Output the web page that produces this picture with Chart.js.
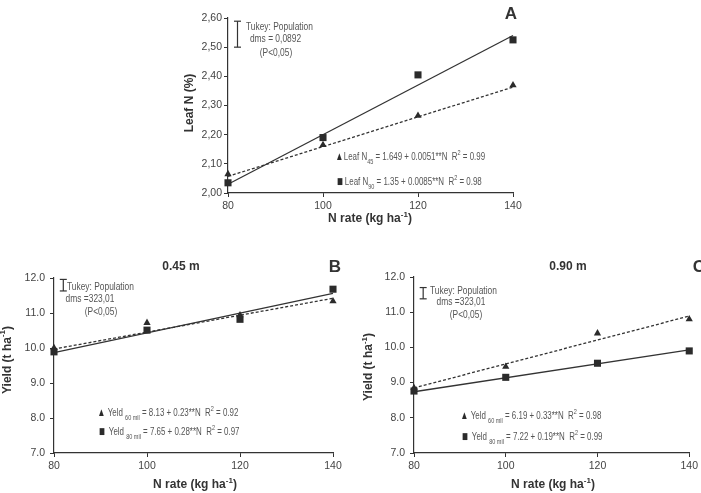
<!DOCTYPE html>
<html>
<head>
<meta charset="utf-8">
<script src="https://cdn.jsdelivr.net/npm/chart.js@4.4.1/dist/chart.umd.min.js"></script>
<style>
body { margin: 0; background: #fff; }
#fig { position: relative; width: 701px; height: 493px; }
canvas { position: absolute; }
</style>
</head>
<body>
<div id="fig">
  <canvas id="chartA" width="400" height="232" style="left:150px;top:0"></canvas>
  <canvas id="chartB" width="350" height="261" style="left:0;top:232px"></canvas>
  <canvas id="chartC" width="351" height="261" style="left:350px;top:232px"></canvas>
</div>
<script>
// values
const nRates = [80, 100, 120, 140];
const fitRange = [80, 140];
const tukeyX = 82;

// A - leaf N (%)
const leafN45 = [2.065, 2.165, 2.265, 2.37];
const leafN90 = [2.035, 2.19, 2.405, 2.525];
const leafFit45 = [2.057, 2.363];
const leafFit90 = [2.03, 2.54];
const leafTukey = [2.5, 2.589];

// B - yield 0.45 m (t/ha)
const yieldB60 = [10.0, 10.72, 10.94, 11.34];
const yieldB80 = [9.89, 10.51, 10.82, 11.68];
const fitB60 = [9.97, 11.42];
const fitB80 = [9.87, 11.56];
const tukeyB = [11.63, 11.96];

// C - yield 0.90 m (t/ha)
const yieldC60 = [8.85, 9.45, 10.4, 10.8];
const yieldC80 = [8.76, 9.15, 9.55, 9.9];
const fitC60 = [8.85, 10.89];
const fitC80 = [8.74, 9.93];
const tukeyC = [11.38, 11.7];

const NARROW = "'Liberation Sans Narrow', 'Liberation Sans', Arial, sans-serif";
const SANS = "'Liberation Sans', Arial, sans-serif";

function pts(xs, ys) {
    return xs.map((x, i) => ({ x: x, y: ys[i] }));
}

// draws text with sub/superscript pieces; origin is the anchor point
function drawRich(ctx, parts, align, size, bold, color, family) {
    const segs = parts.map(p => typeof p === 'string' ? { t: p, k: '' } : { t: p[0], k: p[1] });
    const fontFor = k => {
        if (k === 'mark') return Math.round(size * 0.75) + "px 'DejaVu Sans'";
        return (bold ? 'bold ' : '') + (k ? Math.round(size * 0.68) : size) + 'px ' + family;
    };
    let w = 0;
    segs.forEach(s => { ctx.font = fontFor(s.k); s.w = ctx.measureText(s.t).width; w += s.w; });
    let x = align === 'center' ? -w / 2 : (align === 'right' ? -w : 0);
    ctx.textBaseline = 'middle';
    ctx.textAlign = 'left';
    segs.forEach(s => {
        ctx.font = fontFor(s.k);
        ctx.fillStyle = s.k === 'mark' ? '#2b2b2b' : color;
        const dy = s.k === 'sub' ? size * 0.38 : (s.k === 'sup' ? -size * 0.38 : 0);
        ctx.fillText(s.t, x, dy);
        x += s.w;
    });
}

const notesPlugin = {
    id: 'notes',
    afterDraw(chart, args, opts) {
        const ctx = chart.ctx, ca = chart.chartArea;
        (opts.items || []).forEach(n => {
            ctx.save();
            ctx.translate(ca.left + n.dx, ca.top + n.dy);
            if (n.rotate) ctx.rotate(-Math.PI / 2);
            ctx.scale(n.sx || (n.bold ? 1 : 0.73), 1);
            drawRich(ctx, n.parts, n.align || 'left', n.size || 11.5, n.bold, n.color || '#555', n.family || NARROW);
            ctx.restore();
        });
    }
};

function makeChart(id, cfg) {
    const tickFont = { family: SANS, size: 10.5 };
    return new Chart(document.getElementById(id), {
        type: 'scatter',
        data: {
            datasets: [
                { data: pts(nRates, cfg.sq), pointStyle: 'rect', pointRadius: 5, backgroundColor: '#2b2b2b', borderColor: '#2b2b2b', borderWidth: 0, clip: false },
                { data: pts(nRates, cfg.tri), pointStyle: 'triangle', pointRadius: 4.2, backgroundColor: '#2b2b2b', borderColor: '#2b2b2b', borderWidth: 0, clip: false },
                { data: pts(fitRange, cfg.fitSolid), showLine: true, pointRadius: 0, borderColor: '#333', borderWidth: 1.3, clip: false },
                { data: pts(fitRange, cfg.fitDash), showLine: true, pointRadius: 0, borderColor: '#333', borderWidth: 1.3, borderDash: [3, 2], clip: false },
                { data: pts([tukeyX, tukeyX], cfg.tukey), showLine: true, pointStyle: 'line', pointRadius: 3.5,
                  pointBorderWidth: 1.2, pointBorderColor: '#333', borderColor: '#333', borderWidth: 1.2, clip: false }
            ]
        },
        options: {
            responsive: false,
            animation: false,
            layout: { padding: cfg.padding },
            plugins: {
                legend: { display: false },
                tooltip: { enabled: false },
                notes: { items: cfg.notes }
            },
            scales: {
                x: {
                    type: 'linear', min: 80, max: 140,
                    ticks: { stepSize: 20, color: '#444', font: tickFont, padding: 3 },
                    grid: { drawOnChartArea: false, tickLength: 4, color: '#333' },
                    border: { color: '#333', width: 1.2 },
                    afterFit: s => { s.height = cfg.xHeight; }
                },
                y: {
                    min: cfg.yMin, max: cfg.yMax,
                    ticks: { stepSize: cfg.yStep, color: '#444', font: tickFont, padding: cfg.yPad, callback: cfg.fmt },
                    grid: { drawOnChartArea: false, tickLength: 4, color: '#333' },
                    border: { color: '#333', width: 1.2 },
                    afterFit: s => { s.width = cfg.yWidth; }
                }
            }
        },
        plugins: [notesPlugin]
    });
}

const xTitle = ['N rate (kg ha', ['-1', 'sup'], ')'];
const yieldTitle = ['Yield (t ha', ['-1', 'sup'], ')'];

makeChart('chartA', {
    tri: leafN45, sq: leafN90, fitDash: leafFit45, fitSolid: leafFit90, tukey: leafTukey,
    yMin: 2.0, yMax: 2.6, yStep: 0.1, yPad: 2,
    fmt: v => v.toFixed(2).replace('.', ','),
    padding: { left: 0, right: 37, top: 18, bottom: 0 }, yWidth: 78, xHeight: 39,
    notes: [
        { dx: 18, dy: 9, parts: ['Tukey: Population'] },
        { dx: 47.5, dy: 21, align: 'center', parts: ['dms = 0,0892'] },
        { dx: 48, dy: 35, align: 'center', parts: ['(P<0,05)'] },
        { dx: 109, dy: 139, sx: 0.69, parts: [['\u25B2 ', 'mark'], 'Leaf N', ['45', 'sub'], ' = 1.649 + 0.0051**N  R', ['2', 'sup'], ' = 0.99'] },
        { dx: 109, dy: 164, sx: 0.69, parts: [['\u25A0 ', 'mark'], 'Leaf N', ['90', 'sub'], ' = 1.35 + 0.0085**N  R', ['2', 'sup'], ' = 0.98'] },
        { dx: 283, dy: -4, align: 'center', size: 17, bold: true, color: '#333', family: SANS, parts: ['A'] },
        { dx: -38, dy: 85, rotate: true, align: 'center', size: 12, bold: true, color: '#333', family: SANS, parts: ['Leaf N (%)'] },
        { dx: 142, dy: 201, align: 'center', size: 12, bold: true, color: '#333', family: SANS, parts: xTitle }
    ]
});

makeChart('chartB', {
    tri: yieldB60, sq: yieldB80, fitDash: fitB60, fitSolid: fitB80, tukey: tukeyB,
    yMin: 7, yMax: 12, yStep: 1, yPad: 5,
    fmt: v => v.toFixed(1),
    padding: { left: 0, right: 17, top: 46, bottom: 0 }, yWidth: 54, xHeight: 40,
    notes: [
        { dx: 13, dy: 9, parts: ['Tukey: Population'] },
        { dx: 36, dy: 21, align: 'center', parts: ['dms =323,01'] },
        { dx: 47, dy: 34, align: 'center', parts: ['(P<0,05)'] },
        { dx: 45, dy: 135, sx: 0.69, parts: [['\u25B2  ', 'mark'], 'Yeld ', ['60 mil', 'sub'], ' = 8.13 + 0.23**N  R', ['2', 'sup'], ' = 0.92'] },
        { dx: 45, dy: 154, sx: 0.69, parts: [['\u25A0  ', 'mark'], 'Yeld ', ['80 mil', 'sub'], ' = 7.65 + 0.28**N  R', ['2', 'sup'], ' = 0.97'] },
        { dx: 127, dy: -11, align: 'center', size: 12, bold: true, color: '#333', family: SANS, parts: ['0.45 m'] },
        { dx: 281, dy: -11, align: 'center', size: 17, bold: true, color: '#333', family: SANS, parts: ['B'] },
        { dx: -46.5, dy: 82, rotate: true, align: 'center', size: 12, bold: true, color: '#333', family: SANS, parts: yieldTitle },
        { dx: 141, dy: 207, align: 'center', size: 12, bold: true, color: '#333', family: SANS, parts: xTitle }
    ]
});

makeChart('chartC', {
    tri: yieldC60, sq: yieldC80, fitDash: fitC60, fitSolid: fitC80, tukey: tukeyC,
    yMin: 7, yMax: 12, yStep: 1, yPad: 5,
    fmt: v => v.toFixed(1),
    padding: { left: 0, right: 8, top: 45, bottom: 0 }, yWidth: 64, xHeight: 40,
    notes: [
        { dx: 16, dy: 14, parts: ['Tukey: Population'] },
        { dx: 47, dy: 25, align: 'center', parts: ['dms =323,01'] },
        { dx: 52, dy: 38, align: 'center', parts: ['(P<0,05)'] },
        { dx: 48, dy: 139, sx: 0.69, parts: [['\u25B2  ', 'mark'], 'Yeld ', ['60 mil', 'sub'], ' = 6.19 + 0.33**N  R', ['2', 'sup'], ' = 0.98'] },
        { dx: 48, dy: 160, sx: 0.69, parts: [['\u25A0  ', 'mark'], 'Yeld ', ['80 mil', 'sub'], ' = 7.22 + 0.19**N  R', ['2', 'sup'], ' = 0.99'] },
        { dx: 154, dy: -10, align: 'center', size: 12, bold: true, color: '#333', family: SANS, parts: ['0.90 m'] },
        { dx: 285, dy: -10, align: 'center', size: 17, bold: true, color: '#333', family: SANS, parts: ['C'] },
        { dx: -45, dy: 90, rotate: true, align: 'center', size: 12, bold: true, color: '#333', family: SANS, parts: yieldTitle },
        { dx: 139, dy: 208, align: 'center', size: 12, bold: true, color: '#333', family: SANS, parts: xTitle }
    ]
});
</script>
</body>
</html>
